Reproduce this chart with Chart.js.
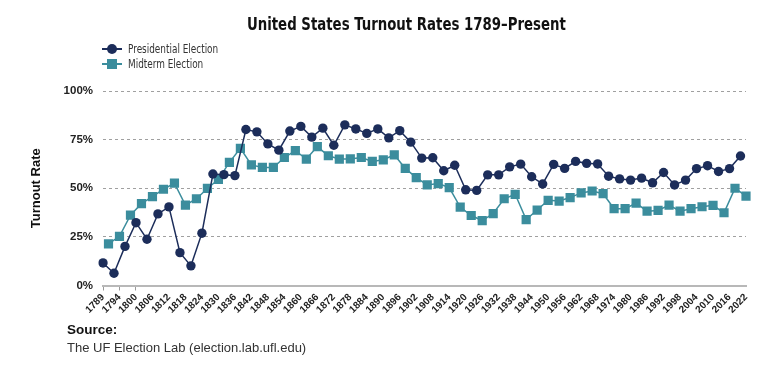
<!DOCTYPE html>
<html>
<head>
<meta charset="utf-8">
<script src="https://cdn.jsdelivr.net/npm/chart.js@4"></script>
<style>
  html, body { margin: 0; padding: 0; background: #fff; }
  body { width: 780px; height: 369px; position: relative; overflow: hidden; }
  #c { position: absolute; left: 0; top: 0; }
  #titlewrap { position: absolute; left: 0; top: 14px; width: 812px; text-align: center; }
  #title { display: inline-block; transform: scaleX(0.80); transform-origin: center;
    font-family: "Liberation Sans Narrow", "DejaVu Sans Condensed", Roboto, sans-serif;
    font-weight: bold; font-size: 18.5px; line-height: 20px; color: #111; white-space: nowrap; }
  .leg { position: absolute; left: 102px; height: 14px; font-family: "Liberation Sans Narrow", "DejaVu Sans Condensed", Roboto, sans-serif;
    font-size: 11.5px; line-height: 14px; color: #333; }
  .leg .ln { position: absolute; left: 0; top: 6px; width: 20px; height: 2px; }
  .leg .mk { position: absolute; }
  .leg .tx { position: absolute; left: 26px; top: 0; white-space: nowrap; transform: scaleX(0.86); transform-origin: left center; }
  #src1 { position: absolute; left: 67px; top: 322px; font-family: "Liberation Sans", Arial, sans-serif; font-weight: bold; font-size: 13.5px; color: #111; }
  #src2 { position: absolute; left: 67px; top: 340px; font-family: "Liberation Sans", Arial, sans-serif; font-size: 13px; color: #333; }
</style>
</head>
<body>
<canvas id="c" width="780" height="369"></canvas>
<div id="titlewrap"><span id="title">United States Turnout Rates 1789–Present</span></div>
<div class="leg" style="top:42px">
  <div class="ln" style="background:#1c2d5a"></div>
  <div class="mk" style="left:5px;top:2px;width:10px;height:10px;border-radius:50%;background:#1c2d5a"></div>
  <div class="tx">Presidential Election</div>
</div>
<div class="leg" style="top:57px">
  <div class="ln" style="background:#3b8d9d"></div>
  <div class="mk" style="left:5px;top:2px;width:10px;height:10px;background:#3b8d9d"></div>
  <div class="tx">Midterm Election</div>
</div>
<div id="src1">Source:</div>
<div id="src2">The UF Election Lab (election.lab.ufl.edu)</div>
<script>
const presidentialYears = [1789,1792,1796,1800,1804,1808,1812,1816,1820,1824,1828,1832,1836,1840,1844,1848,1852,1856,1860,1864,1868,1872,1876,1880,1884,1888,1892,1896,1900,1904,1908,1912,1916,1920,1924,1928,1932,1936,1940,1944,1948,1952,1956,1960,1964,1968,1972,1976,1980,1984,1988,1992,1996,2000,2004,2008,2012,2016,2020];
const presidentialTurnout = [11.6,6.3,20.1,32.3,23.8,36.8,40.4,16.9,10.1,26.9,57.3,57.0,56.5,80.2,79.0,72.8,69.6,79.4,81.8,76.3,80.9,72.1,82.6,80.5,78.2,80.5,75.9,79.6,73.7,65.5,65.7,59.0,61.8,49.2,48.9,56.9,56.9,61.0,62.4,55.9,52.2,62.3,60.2,63.8,62.8,62.5,56.2,54.8,54.2,55.2,52.8,58.1,51.7,54.2,60.1,61.6,58.6,60.1,66.6];
const midtermYears = [1790,1794,1798,1802,1806,1810,1814,1818,1822,1826,1830,1834,1838,1842,1846,1850,1854,1858,1862,1866,1870,1874,1878,1882,1886,1890,1894,1898,1902,1906,1910,1914,1918,1922,1926,1930,1934,1938,1942,1946,1950,1954,1958,1962,1966,1970,1974,1978,1982,1986,1990,1994,1998,2002,2006,2010,2014,2018,2022];
const midtermTurnout = [21.4,25.3,36.2,42.1,45.7,49.5,52.6,41.3,44.6,49.9,54.6,63.3,70.5,62.0,60.7,60.7,65.8,69.3,65.0,71.4,66.7,65.0,65.1,65.8,63.8,64.6,67.2,60.2,55.5,51.7,52.4,50.3,40.3,36.0,33.4,37.0,44.6,46.9,33.9,38.8,43.8,43.4,45.2,47.6,48.6,47.2,39.5,39.5,42.4,38.2,38.6,41.3,38.2,39.5,40.5,41.2,37.4,50.0,46.0];
const xTickLabels = ["1789","1794","1800","1806","1812","1818","1824","1830","1836","1842","1848","1854","1860","1866","1872","1878","1884","1890","1896","1902","1908","1914","1920","1926","1932","1938","1944","1950","1956","1962","1968","1974","1980","1986","1992","1998","2004","2010","2016","2022"];
const yTickValues = [0, 25, 50, 75, 100];

// category list built from the election years
const categories = presidentialYears.concat(midtermYears).sort((a, b) => a - b).map(String);
const presData = categories.map(y => { const i = presidentialYears.indexOf(+y); return i >= 0 ? presidentialTurnout[i] : null; });
const midData = categories.map(y => { const i = midtermYears.indexOf(+y); return i >= 0 ? midtermTurnout[i] : null; });

const NAVY = '#1c2d5a', TEAL = '#3b8d9d';
const tickFont = { family: '"Liberation Sans", Arial, sans-serif', size: 10, weight: 'bold' };

new Chart(document.getElementById('c'), {
  type: 'line',
  data: {
    labels: categories,
    datasets: [
      { label: 'Presidential Election', data: presData, spanGaps: true, borderColor: NAVY, backgroundColor: NAVY,
        borderWidth: 1.5, pointStyle: 'circle', pointRadius: 4.7, pointBorderWidth: 0, tension: 0 },
      { label: 'Midterm Election', data: midData, spanGaps: true, borderColor: TEAL, backgroundColor: TEAL,
        borderWidth: 1.5, pointStyle: 'rect', pointRadius: 6.5, pointBorderWidth: 0, tension: 0 }
    ]
  },
  options: {
    responsive: false, animation: false, devicePixelRatio: 1,
    layout: { padding: { left: 0, top: 91, right: 34, bottom: 0 } },
    plugins: { legend: { display: false }, title: { display: false }, tooltip: { enabled: false } },
    scales: {
      x: {
        type: 'category', offset: false,
        grid: { drawOnChartArea: false, drawTicks: true, tickLength: 5,
          tickColor: c => (c.index === 0 || c.index === 3 || c.index === 6) ? '#9a9a9a' : 'rgba(0,0,0,0)' },
        border: { display: true, color: '#b8b8b8', width: 2 },
        ticks: { autoSkip: false, maxRotation: 45, minRotation: 45, padding: 1, color: '#222', font: tickFont,
          callback: (v, i) => xTickLabels.includes(categories[i]) ? categories[i] : '' },
        afterFit: s => { s.height = 83.5; }
      },
      y: {
        min: 0, max: 100,
        afterBuildTicks: s => { s.ticks = yTickValues.map(v => ({ value: v })); },
        ticks: { padding: 10, color: '#222', font: { family: '"Liberation Sans", Arial, sans-serif', size: 11.5, weight: 'bold' },
          callback: v => v + '%' },
        grid: { drawTicks: false, color: c => c.tick && c.tick.value === 0 ? 'rgba(0,0,0,0)' : '#a0a0a0', lineWidth: 1 },
        border: { display: false, dash: [3, 3] },
        title: { display: true, text: 'Turnout Rate', color: '#111', padding: { top: 29, bottom: 0 },
          font: { family: '"Liberation Sans", Arial, sans-serif', size: 13, weight: 'bold' } },
        afterFit: s => { s.width = 103; }
      }
    }
  }
});
</script>
</body>
</html>
